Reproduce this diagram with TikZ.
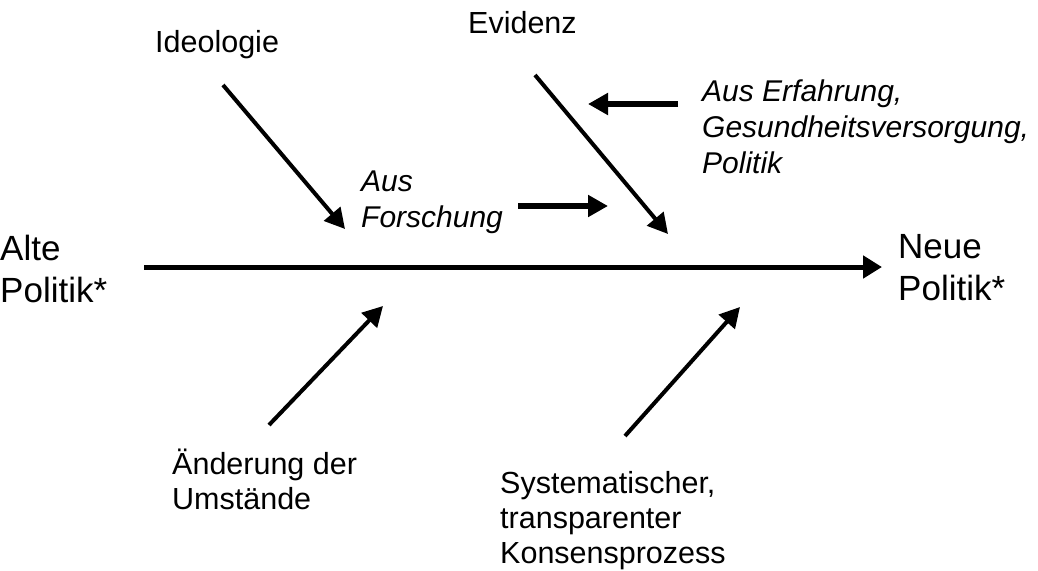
\documentclass[tikz,border=0pt]{standalone}
\usepackage{fontspec}
\setmainfont{Liberation Sans}
\usetikzlibrary{arrows.meta}
\begin{document}
\begin{tikzpicture}[x=1pt,y=-1pt,
  lbl/.style={anchor=base west, inner sep=0pt, align=left, font=\fontsize{30.5}{35}\selectfont},
  biglbl/.style={anchor=base west, inner sep=0pt, align=left, font=\fontsize{35}{42}\selectfont},
  ilbl/.style={anchor=base west, inner sep=0pt, align=left, font=\fontsize{30}{36}\selectfont\itshape},
  diag/.style={line width=4pt, -{Triangle[length=20pt,width=21pt]}},
  hor/.style={line width=6pt, -{Triangle[length=20pt,width=21pt]}},
  mainline/.style={line width=5pt, -{Triangle[length=19pt,width=22pt]}}]
\useasboundingbox (0,0) rectangle (1038,570);
% labels (anchor = baseline of the last line)
\node[biglbl] (alte) at (0,302) {Alte\\Politik*};
\node[biglbl] (neue) at (898,300) {Neue\\Politik*};
\node[lbl] (ideo) at (155,52) {Ideologie};
\node[lbl] (evid) at (468,33) {Evidenz};
\node[ilbl] (erf) at (702,173) {Aus Erfahrung,\\Gesundheitsversorgung,\\Politik};
\node[ilbl] (forsch) at (361,227) {Aus\\Forschung};
\node[lbl] (aend) at (172,509) {Änderung der\\Umstände};
\node[lbl] (syst) at (500,563) {Systematischer,\\transparenter\\Konsensprozess};
% connector end points
\coordinate (mS) at (144,267);
\coordinate (mE) at (882,267);
\coordinate (iS) at (223,85);
\coordinate (iE) at (345,229);
\coordinate (eS) at (535,75);
\coordinate (eE) at (668,234);
\coordinate (xS) at (678,104);
\coordinate (xE) at (588,104);
\coordinate (fS) at (518,206);
\coordinate (fE) at (608,206);
\coordinate (aS) at (269,425);
\coordinate (aE) at (383,306);
\coordinate (sS) at (625,436);
\coordinate (sE) at (740,307);
% connectors
\draw[mainline] (mS) -- (mE);
\draw[diag] (iS) -- (iE);
\draw[diag] (eS) -- (eE);
\draw[hor] (xS) -- (xE);
\draw[hor] (fS) -- (fE);
\draw[diag] (aS) -- (aE);
\draw[diag] (sS) -- (sE);
\end{tikzpicture}
\end{document}
